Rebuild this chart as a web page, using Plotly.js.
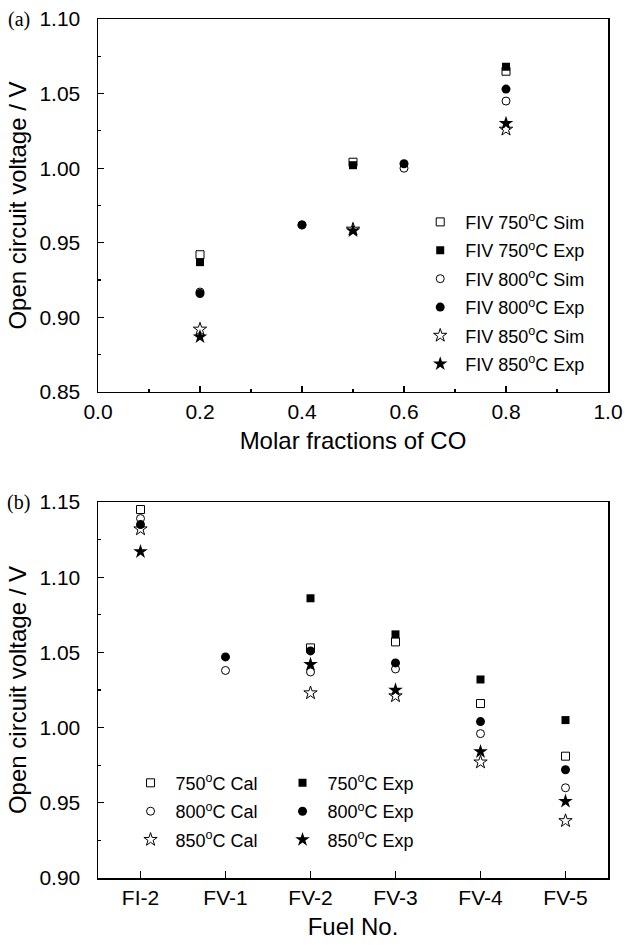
<!DOCTYPE html>
<html>
<head>
<meta charset="utf-8">
<script src="https://cdn.plot.ly/plotly-3.0.1.min.js"></script>
<style>html,body{margin:0;padding:0;background:#fff;}#chart{width:625px;height:945px;}</style>
</head>
<body>
<div id="chart"></div>
<script>
// ---- Panel (a): molar fraction of CO vs OCV ----
const coFrac3 = [0.2, 0.5, 0.8];
const coFrac4 = [0.2, 0.4, 0.6, 0.8];
const a750Sim = [0.942, 1.004, 1.065];
const a750Exp = [0.937, 1.002, 1.068];
const a800Sim = [0.917, 0.962, 1.000, 1.045];
const a800Exp = [0.916, 0.962, 1.003, 1.053];
const a850Sim = [0.892, 0.959, 1.026];
const a850Exp = [0.887, 0.958, 1.030];

// ---- Panel (b): fuel number vs OCV ----
const fuels = ["FI-2", "FV-1", "FV-2", "FV-3", "FV-4", "FV-5"];
const b750Cal = [1.145, null, 1.053, 1.057, 1.016, 0.981];
const b750Exp = [null, null, 1.086, 1.062, 1.032, 1.005];
const b800Cal = [1.139, 1.038, 1.037, 1.039, 0.996, 0.960];
const b800Exp = [1.135, 1.047, 1.051, 1.043, 1.004, 0.972];
const b850Cal = [1.132, null, 1.023, 1.021, 0.977, 0.938];
const b850Exp = [1.117, null, 1.042, 1.025, 0.984, 0.951];

const FONT = "'Liberation Sans', Arial, sans-serif";
const SERIF = "'Liberation Serif', 'Times New Roman', serif";
const deg = "<sup>o</sup>C";

function mk(sym, size) {
  const open = sym.indexOf("-open") >= 0;
  return {symbol: sym, size: size, color: "black", line: {color: "black", width: open ? 1 : 0}};
}

const traces = [
  {x: coFrac3, y: a750Sim, name: "FIV 750" + deg + " Sim", marker: mk("square-open", 8)},
  {x: coFrac3, y: a750Exp, name: "FIV 750" + deg + " Exp", marker: mk("square", 8)},
  {x: coFrac4, y: a800Sim, name: "FIV 800" + deg + " Sim", marker: mk("circle-open", 8)},
  {x: coFrac4, y: a800Exp, name: "FIV 800" + deg + " Exp", marker: mk("circle", 9)},
  {x: coFrac3, y: a850Sim, name: "FIV 850" + deg + " Sim", marker: mk("star-open", 10)},
  {x: coFrac3, y: a850Exp, name: "FIV 850" + deg + " Exp", marker: mk("star", 11)}
].map((t, i) => Object.assign(t, {type: "scatter", mode: "markers", xaxis: "x", yaxis: "y",
                                  legend: "legend3", legendgroup: "a" + i}));

const traceB = [
  {y: b750Cal, name: "750" + deg + " Cal", marker: mk("square-open", 8), legend: "legend"},
  {y: b800Cal, name: "800" + deg + " Cal", marker: mk("circle-open", 8), legend: "legend"},
  {y: b850Cal, name: "850" + deg + " Cal", marker: mk("star-open", 10), legend: "legend"},
  {y: b750Exp, name: "750" + deg + " Exp", marker: mk("square", 8), legend: "legend2"},
  {y: b800Exp, name: "800" + deg + " Exp", marker: mk("circle", 9), legend: "legend2"},
  {y: b850Exp, name: "850" + deg + " Exp", marker: mk("star", 11), legend: "legend2"}
].map((t, i) => Object.assign(t, {type: "scatter", mode: "markers", x: fuels, xaxis: "x2", yaxis: "y2",
                                  legendgroup: "b" + i}));

const axisBase = {
  showline: true, mirror: true, linecolor: "black", linewidth: 1.5,
  ticks: "inside", ticklen: 6, tickwidth: 1.2, tickcolor: "black",
  showgrid: false, zeroline: false,
  tickfont: {family: FONT, size: 21, color: "black"}
};
const titleFont = {family: FONT, size: 24, color: "black"};
const legFont = {family: FONT, size: 18, color: "black"};
const legBase = {xanchor: "left", yanchor: "top", bgcolor: "rgba(0,0,0,0)", font: legFont,
                 tracegroupgap: 2, traceorder: "grouped", itemwidth: 40};

const layout = {
  width: 625, height: 945,
  margin: {l: 98, r: 17, t: 19, b: 67},
  paper_bgcolor: "white", plot_bgcolor: "white",
  font: {family: FONT, color: "black"},
  xaxis: Object.assign({}, axisBase, {
    domain: [0, 1], anchor: "y", range: [0, 1], dtick: 0.2, tick0: 0, tickformat: ".1f",
    minor: {dtick: 0.1, ticks: "inside", ticklen: 3, tickcolor: "black"},
    title: {text: "Molar fractions of CO", font: titleFont, standoff: 10}
  }),
  yaxis: Object.assign({}, axisBase, {
    domain: [0.5658, 1], anchor: "x", range: [0.85, 1.10], dtick: 0.05, tick0: 0.85, tickformat: ".2f",
    ticklabelstandoff: 12,
    minor: {dtick: 0.025, ticks: "inside", ticklen: 3, tickcolor: "black"},
    title: {text: "Open circuit voltage / V", font: titleFont, standoff: 6}
  }),
  xaxis2: Object.assign({}, axisBase, {
    domain: [0, 1], anchor: "y2", type: "category", range: [-0.5, 5.5], ticklen: 7,
    title: {text: "Fuel No.", font: titleFont, standoff: 10}
  }),
  yaxis2: Object.assign({}, axisBase, {
    domain: [0, 0.4377], anchor: "x2", range: [0.90, 1.15], dtick: 0.05, tick0: 0.90, tickformat: ".2f",
    ticklabelstandoff: 12,
    minor: {dtick: 0.025, ticks: "inside", ticklen: 3, tickcolor: "black"},
    title: {text: "Open circuit voltage / V", font: titleFont, standoff: 6}
  }),
  legend3: Object.assign({}, legBase, {x: 0.622, y: 0.785}),
  legend: Object.assign({}, legBase, {x: 0.054, y: 0.132}),
  legend2: Object.assign({}, legBase, {x: 0.352, y: 0.132}),
  showlegend: true,
  annotations: [
    {text: "(a)", xref: "paper", yref: "paper", x: -0.155, y: 1.0, xanchor: "center", yanchor: "middle",
     showarrow: false, font: {family: SERIF, size: 20, color: "black"}},
    {text: "(b)", xref: "paper", yref: "paper", x: -0.155, y: 0.4377, xanchor: "center", yanchor: "middle",
     showarrow: false, font: {family: SERIF, size: 20, color: "black"}}
  ]
};

Plotly.newPlot("chart", traces.concat(traceB), layout, {displayModeBar: false, staticPlot: true});
</script>
</body>
</html>
